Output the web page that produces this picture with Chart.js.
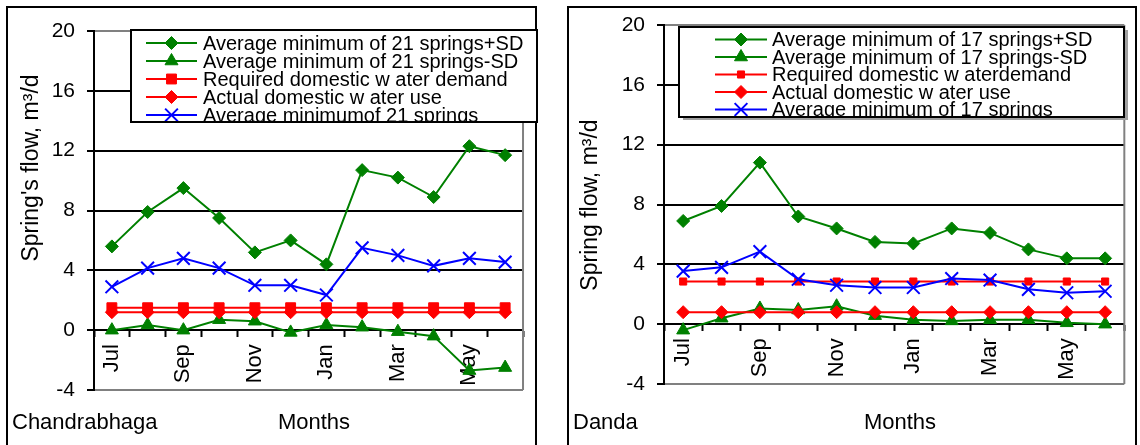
<!DOCTYPE html>
<html>
<head>
<meta charset="utf-8">
<script src="https://cdn.jsdelivr.net/npm/chart.js@4/dist/chart.umd.min.js"></script>
<style>
  html, body { margin: 0; padding: 0; background: #fff; overflow: hidden; }
  body { width: 1140px; height: 445px; position: relative; }
  .frame { position: absolute; top: 6px; height: 470px; border: 2px solid #000; border-bottom: none; box-sizing: border-box; }
  canvas { position: absolute; top: 0; }
</style>
</head>
<body>
<div class="frame" style="left:6px;width:531px;"></div>
<div class="frame" style="left:567px;width:570px;"></div>
<canvas id="chartLeft" width="540" height="445" style="left:0"></canvas>
<canvas id="chartRight" width="580" height="445" style="left:560px"></canvas>
<script>
const months = ["Jul", "Aug", "Sep", "Oct", "Nov", "Dec", "Jan", "Feb", "Mar", "Apr", "May", "Jun"];
const yTicks = [-4, 0, 4, 8, 12, 16, 20];

// Chandrabhaga (21 springs)
const chandraPlusSD = [5.6, 7.9, 9.5, 7.5, 5.2, 6.0, 4.4, 10.7, 10.2, 8.9, 12.3, 11.7];
const chandraMinusSD = [0.0, 0.35, 0.0, 0.7, 0.6, -0.15, 0.35, 0.2, -0.1, -0.4, -2.7, -2.5];
const chandraRequired = [1.5, 1.5, 1.5, 1.5, 1.5, 1.5, 1.5, 1.5, 1.5, 1.5, 1.5, 1.5];
const chandraActual = [1.2, 1.2, 1.2, 1.2, 1.2, 1.2, 1.2, 1.2, 1.2, 1.2, 1.2, 1.2];
const chandraAverage = [2.9, 4.15, 4.8, 4.15, 3.0, 3.0, 2.35, 5.5, 5.0, 4.3, 4.8, 4.55];
const chandraLabels = [
    "Average minimum of 21 springs+SD",
    "Average minimum of 21 springs-SD",
    "Required domestic w ater demand",
    "Actual domestic w ater use",
    "Average minimumof 21 springs"
];

// Danda (17 springs)
const dandaPlusSD = [6.9, 7.9, 10.8, 7.2, 6.4, 5.5, 5.4, 6.4, 6.1, 5.0, 4.4, 4.4];
const dandaMinusSD = [-0.4, 0.4, 1.05, 0.95, 1.2, 0.57, 0.3, 0.22, 0.3, 0.3, 0.09, 0.0];
const dandaRequired = [2.85, 2.85, 2.85, 2.85, 2.85, 2.85, 2.85, 2.85, 2.85, 2.85, 2.85, 2.85];
const dandaActual = [0.8, 0.8, 0.8, 0.8, 0.8, 0.8, 0.8, 0.8, 0.8, 0.8, 0.8, 0.8];
const dandaAverage = [3.55, 3.8, 4.85, 3.0, 2.6, 2.45, 2.45, 3.05, 2.95, 2.33, 2.1, 2.2];
const dandaLabels = [
    "Average minimum of 17 springs+SD",
    "Average minimum of 17 springs-SD",
    "Required domestic w aterdemand",
    "Actual domestic w ater use",
    "Average minimum of 17 springs"
];

const GREEN = "#008000";
const RED = "#ff0000";
const BLUE = "#0000ff";
const FONT = "Liberation Sans, Arial, sans-serif";

function makeChart(canvasId, p) {
    const series = [
        { label: p.labels[0], data: p.plusSD, color: GREEN, style: "rectRot", r: 6.5, order: 5 },
        { label: p.labels[1], data: p.minusSD, color: GREEN, style: "triangle", r: 7.5, order: 4 },
        { label: p.labels[2], data: p.required, color: RED, style: "rect", r: p.squareR, order: 3 },
        { label: p.labels[3], data: p.actual, color: RED, style: "rectRot", r: 6.5, order: 2 },
        { label: p.labels[4], data: p.average, color: BLUE, style: "crossRot", r: 9, order: 1 }
    ];
    const datasets = series.map(s => ({
        label: s.label,
        data: s.data,
        borderColor: s.color,
        backgroundColor: s.color,
        pointBackgroundColor: s.color,
        pointBorderColor: s.color,
        pointStyle: s.style,
        pointRadius: s.r,
        pointBorderWidth: s.style === "crossRot" ? 2 : 1,
        borderWidth: 2,
        tension: 0,
        order: s.order
    }));

    // legend box inside the plot, like the original
    const boxLegend = {
        id: "boxLegend",
        afterDatasetsDraw(chart) {
            const ctx = chart.ctx;
            const L = p.legend;
            ctx.save();
            if (L.shadow) {
                ctx.fillStyle = "#a0a0a0";
                ctx.fillRect(L.x + 4, L.y + 3, L.w, L.h);
            }
            ctx.fillStyle = "#fff";
            ctx.fillRect(L.x, L.y, L.w, L.h);
            ctx.lineWidth = 2;
            ctx.strokeStyle = "#000";
            ctx.strokeRect(L.x, L.y, L.w, L.h);
            ctx.beginPath();
            ctx.rect(L.x + 1, L.y + 1, L.w - 2, L.h - 2);
            ctx.clip();
            chart.data.datasets.forEach((ds, i) => {
                const cy = L.rowTop + i * L.rowStep;
                ctx.strokeStyle = ds.borderColor;
                ctx.lineWidth = 2;
                ctx.beginPath();
                ctx.moveTo(L.lineX0, cy);
                ctx.lineTo(L.lineX1, cy);
                ctx.stroke();
                ctx.fillStyle = ds.pointBackgroundColor;
                ctx.strokeStyle = ds.pointBorderColor;
                ctx.lineWidth = ds.pointBorderWidth;
                Chart.helpers.drawPoint(ctx, {
                    pointStyle: ds.pointStyle,
                    radius: ds.pointRadius,
                    borderWidth: ds.pointBorderWidth,
                    rotation: 0
                }, (L.lineX0 + L.lineX1) / 2, cy);
                ctx.fillStyle = "#000";
                ctx.font = L.fontSize + "px " + FONT;
                ctx.textAlign = "left";
                ctx.textBaseline = "middle";
                ctx.fillText(ds.label, L.textX, cy + 1);
            });
            ctx.restore();
        }
    };

    // right edge of the plot area in grey
    const plotEdge = {
        id: "plotEdge",
        beforeDatasetsDraw(chart) {
            const a = chart.chartArea;
            const ctx = chart.ctx;
            ctx.save();
            ctx.strokeStyle = "#808080";
            ctx.lineWidth = 2;
            ctx.beginPath();
            ctx.moveTo(a.right, a.top);
            ctx.lineTo(a.right, a.bottom);
            ctx.stroke();
            ctx.restore();
        }
    };

    const panelText = {
        id: "panelText",
        afterDraw(chart) {
            const ctx = chart.ctx;
            p.texts.forEach(t => {
                ctx.save();
                ctx.translate(t.x, t.y);
                ctx.rotate(t.rot || 0);
                ctx.fillStyle = "#000";
                ctx.font = (t.size || 22) + "px " + FONT;
                ctx.textAlign = t.align || "center";
                ctx.textBaseline = "middle";
                ctx.fillText(t.text, 0, 0);
                ctx.restore();
            });
        }
    };

    return new Chart(document.getElementById(canvasId), {
        type: "line",
        data: { labels: months, datasets: datasets },
        options: {
            responsive: false,
            animation: false,
            events: [],
            layout: { padding: { left: 0, right: p.padRight, top: p.padTop, bottom: p.padBottom } },
            plugins: { legend: { display: false }, tooltip: { enabled: false } },
            scales: {
                x: {
                    type: "category",
                    position: { y: 0 },
                    offset: true,
                    grid: { offset: true, drawOnChartArea: false, drawTicks: true, tickLength: 6, tickColor: "#000", tickWidth: 2 },
                    border: { color: "#000", width: 2 },
                    ticks: {
                        autoSkip: false,
                        minRotation: 90,
                        maxRotation: 90,
                        padding: 8,
                        color: "#000",
                        font: { family: FONT, size: 22 },
                        callback: function (value, index) {
                            return index % 2 === 0 ? this.getLabelForValue(value) : "";
                        }
                    }
                },
                y: {
                    min: -4,
                    max: 20,
                    afterBuildTicks: scale => { scale.ticks = yTicks.map(v => ({ value: v })); },
                    afterFit: scale => { scale.width = p.axisWidth; },
                    grid: {
                        color: c => (c.tick && (c.tick.value === -4 || c.tick.value === 20)) ? "#808080" : "#000",
                        lineWidth: 2,
                        tickLength: 7,
                        tickColor: "#000"
                    },
                    border: { color: "#000", width: 2 },
                    ticks: { padding: 12, color: "#000", font: { family: FONT, size: 21 } }
                }
            }
        },
        plugins: [plotEdge, boxLegend, panelText]
    });
}

makeChart("chartLeft", {
    plusSD: chandraPlusSD, minusSD: chandraMinusSD, required: chandraRequired,
    actual: chandraActual, average: chandraAverage, labels: chandraLabels,
    squareR: 7,
    axisWidth: 94, padTop: 31, padBottom: 55, padRight: 4,
    legend: { x: 131, y: 30, w: 406, h: 92, rowTop: 43, rowStep: 18, lineX0: 146, lineX1: 197, textX: 203, fontSize: 20, shadow: false },
    texts: [
        { text: "Spring's flow, m\u00b3/d", x: 32, y: 168, rot: -Math.PI / 2, size: 23 },
        { text: "Chandrabhaga", x: 12, y: 423, align: "left" },
        { text: "Months", x: 314, y: 423 }
    ]
});

makeChart("chartRight", {
    plusSD: dandaPlusSD, minusSD: dandaMinusSD, required: dandaRequired,
    actual: dandaActual, average: dandaAverage, labels: dandaLabels,
    squareR: 5,
    axisWidth: 104, padTop: 25, padBottom: 61, padRight: 7,
    legend: { x: 119, y: 27, w: 445, h: 90, rowTop: 39.5, rowStep: 17.5, lineX0: 155, lineX1: 207, textX: 212, fontSize: 20, shadow: true },
    texts: [
        { text: "Spring flow, m\u00b3/d", x: 31, y: 205, rot: -Math.PI / 2, size: 23 },
        { text: "Danda", x: 13, y: 423, align: "left" },
        { text: "Months", x: 340, y: 423 }
    ]
});
</script>
</body>
</html>
